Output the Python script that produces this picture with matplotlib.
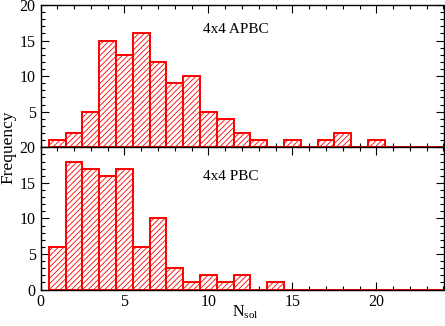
import matplotlib
matplotlib.use("Agg")
import matplotlib.pyplot as plt
from matplotlib.ticker import MultipleLocator

plt.rcParams['font.family'] = ['Liberation Serif', 'DejaVu Serif']
plt.rcParams['hatch.linewidth'] = 0.6
plt.rcParams['hatch.color'] = '#ff6666'

# bin centres (N_sol) and counts for each boundary condition
nsol = list(range(1, 25))
apbc = [1, 2, 5, 15, 13, 16, 12, 9, 10, 5, 4, 2, 1, 0, 1, 0, 1, 2, 0, 1, 0, 0, 0, 0]
pbc = [6, 18, 17, 16, 17, 6, 10, 3, 1, 2, 1, 2, 0, 1, 0, 0, 0, 0, 0, 0, 0, 0, 0, 0]
labels = ["4x4 APBC", "4x4 PBC"]

W, H = 445, 326
fig = plt.figure(figsize=(W / 100, H / 100), dpi=100)
left, right = 40.5 / W, 443.5 / W
y_top, y_mid, y_bot = 5 / H, 147.3 / H, 289.5 / H

ax1 = fig.add_axes([left, 1 - y_mid, right - left, y_mid - y_top])
ax2 = fig.add_axes([left, 1 - y_bot, right - left, y_bot - y_mid])


def style(ax, counts, label, label_y):
    ax.bar(nsol, counts, width=1.0, facecolor='white', edgecolor='red',
           linewidth=1.4, hatch='//////', zorder=2)
    ax.set_xlim(0, 24)
    ax.set_ylim(0, 20)
    ax.xaxis.set_major_locator(MultipleLocator(5))
    ax.xaxis.set_minor_locator(MultipleLocator(1))
    ax.yaxis.set_major_locator(MultipleLocator(5))
    ax.yaxis.set_minor_locator(MultipleLocator(1))
    ax.tick_params(which='both', direction='in', top=True, right=True,
                   labelsize=11.5, width=0.8, zorder=3)
    ax.tick_params(which='major', length=6)
    ax.tick_params(which='minor', length=3)
    for s in ax.spines.values():
        s.set_linewidth(1.0)
        s.set_zorder(4)
    ax.text(9.7, label_y, label, fontsize=11, va='center', ha='left')


style(ax1, apbc, labels[0], 16.5)
style(ax2, pbc, labels[1], 15.9)

ax1.set_yticks([5, 10, 15, 20])
ax1.tick_params(axis='x', labelbottom=False)

# axis titles placed in figure pixels
fig.text(232 / W, 1 - 316 / H, r"N$_{\mathregular{sol}}$", fontsize=11.5,
         ha='left', va='baseline')
fig.text(8 / W, 1 - 147 / H, "Frequency", rotation=90, fontsize=12.5,
         ha='center', va='center')

fig.savefig("out.png", dpi=100)
